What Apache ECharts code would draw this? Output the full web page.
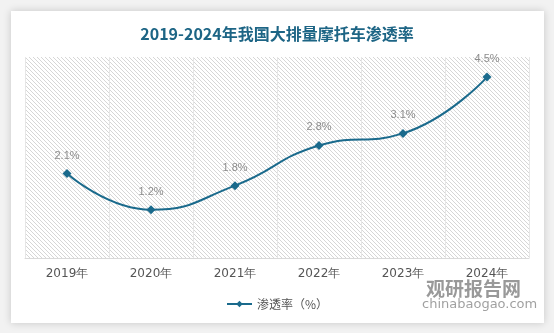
<!DOCTYPE html>
<html>
<head>
<meta charset="utf-8">
<script src="https://cdn.jsdelivr.net/npm/echarts@6/dist/echarts.min.js"></script>
<style>
html,body{margin:0;padding:0;background:#f2f2f2;}
#chart{width:554px;height:333px;}
</style>
</head>
<body>
<div id="chart"></div>
<script>
const categories = ['2019年','2020年','2021年','2022年','2023年','2024年'];
const penetration = [2.1, 1.2, 1.8, 2.8, 3.1, 4.5];
const seriesName = '渗透率（%）';
const titleText = '2019-2024年我国大排量摩托车渗透率';

function hatch(){
  const c = document.createElement('canvas');
  c.width = 4; c.height = 4;
  const g = c.getContext('2d');
  g.fillStyle = '#ffffff'; g.fillRect(0,0,4,4);
  g.strokeStyle = '#d6d6d6'; g.lineWidth = 1;
  g.beginPath();
  g.moveTo(-1,-1); g.lineTo(5,5);
  g.moveTo(-1,3); g.lineTo(1,5);
  g.moveTo(3,-1); g.lineTo(5,1);
  g.stroke();
  return {image: c, repeat: 'repeat'};
}

const chart = echarts.init(document.getElementById('chart'));
chart.setOption({
  backgroundColor: '#f2f2f2',
  animation: false,
  graphic: [
    {type:'rect', shape:{x:11,y:11,width:533,height:312}, style:{fill:'#ffffff', shadowBlur:8, shadowColor:'rgba(0,0,0,0.18)'}, z:-10},
    {type:'text', left:426, top:279, style:{text:'观研报告网', font:'bold 19px "Noto Sans CJK SC"', fill:'rgba(110,110,110,0.7)'}, z:10},
    {type:'text', left:422, top:298, style:{text:'chinabaogao.com', font:'13px "DejaVu Sans"', fill:'rgba(120,120,120,0.7)'}, z:10}
  ],
  title: {
    text: titleText, left: 'center', top: 21,
    textStyle: {fontSize: 16, fontWeight: 'bold', color: '#1d6585', fontFamily: '"Noto Sans CJK SC"'}
  },
  legend: {
    bottom: 18, left: 'center',
    itemWidth: 25, itemHeight: 8,
    textStyle: {color: '#555', fontSize: 12, fontFamily: '"Noto Sans CJK SC"'},
    data: [seriesName]
  },
  grid: {
    left: 25, right: 25, top: 57, bottom: 75,
    show: true, borderWidth: 0, backgroundColor: hatch()
  },
  xAxis: {
    type: 'category', data: categories, boundaryGap: true,
    axisLine: {show: true, lineStyle: {color: '#d9d9d9'}},
    axisTick: {show: false},
    splitLine: {show: true, lineStyle: {color: '#e6e6e6', width: 1}},
    axisLabel: {color: '#555', fontSize: 12, margin: 10, fontFamily: '"DejaVu Sans"'}
  },
  yAxis: {
    type: 'value', min: 0, max: 5, interval: 1, show: false,
    splitLine: {show: false}
  },
  series: [{
    name: seriesName, type: 'line', data: penetration, smooth: true,
    symbol: 'diamond', symbolSize: 9,
    lineStyle: {color: '#1a6a8c', width: 2},
    itemStyle: {color: '#1a6a8c'},
    label: {show: true, position: 'top', distance: 8, formatter: p => p.value + '%', color: '#8c8c8c', fontSize: 11, fontFamily: '"Liberation Sans"'}
  }]
});
</script>
</body>
</html>
